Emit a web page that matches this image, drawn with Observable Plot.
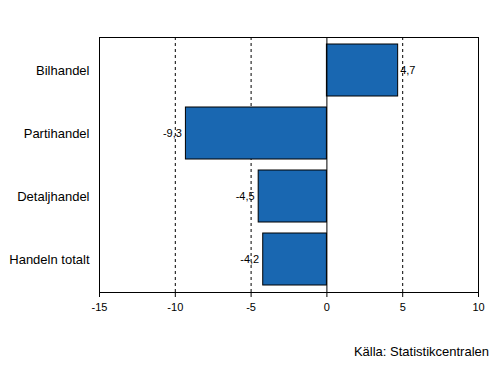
<!DOCTYPE html>
<html>
<head>
<meta charset="utf-8">
<script src="https://cdn.jsdelivr.net/npm/d3@7"></script>
<script src="https://cdn.jsdelivr.net/npm/@observablehq/plot@0.6"></script>
<style>
  body { margin: 0; background: #fff; font-family: "Liberation Sans", Arial, sans-serif; }
  #wrap { position: relative; width: 503px; height: 371px; }
  #caption { position: absolute; right: 14px; top: 344px; font-size: 13px; line-height: 15px; color: #000; }
</style>
</head>
<body>
<div id="wrap">
  <div id="chart"></div>
  <div id="caption">Källa: Statistikcentralen</div>
</div>
<script>
const categories = ["Bilhandel", "Partihandel", "Detaljhandel", "Handeln totalt"];
const values = [4.7, -9.3, -4.5, -4.2];
const labels = ["4,7", "-9,3", "-4,5", "-4,2"];
const xTicks = [-15, -10, -5, 0, 5, 10];
const gridTicks = [-10, -5, 5];

const data = categories.map((c, i) => ({ cat: c, val: values[i], label: labels[i] }));

const chart = Plot.plot({
  width: 503,
  height: 330,
  marginTop: 37,
  marginBottom: 38,
  marginLeft: 99,
  marginRight: 25,
  style: { fontFamily: "Liberation Sans, Arial, sans-serif", fontSize: "11px", color: "#000", background: "#fff" },
  x: { domain: [-15, 10], ticks: xTicks, label: null },
  y: { domain: categories, paddingInner: 0.17, paddingOuter: 0.09, label: null },
  marks: [
    Plot.ruleX(gridTicks, { stroke: "#000", strokeDasharray: "3,3", strokeWidth: 1 }),
    Plot.barX(data, { x: "val", y: "cat", fill: "#1967b1", stroke: "#000", strokeWidth: 1 }),
    Plot.ruleX([0], { stroke: "#000", strokeWidth: 1 }),
    Plot.text(data.filter(d => d.val >= 0), { x: "val", y: "cat", text: "label", textAnchor: "start", dx: 2, fontSize: 11 }),
    Plot.text(data.filter(d => d.val < 0), { x: "val", y: "cat", text: "label", textAnchor: "end", dx: -4, fontSize: 11 }),
    Plot.axisX({ ticks: xTicks, tickSize: 5, tickPadding: 6, tickFormat: d => d < 0 ? "-" + Math.abs(d) : String(d), fontSize: 11, label: null }),
    Plot.axisY({ tickSize: 0, tickPadding: 10, fontSize: 13, label: null }),
    Plot.frame({ stroke: "#000", strokeWidth: 1 })
  ]
});
document.getElementById("chart").appendChild(chart);
</script>
</body>
</html>
